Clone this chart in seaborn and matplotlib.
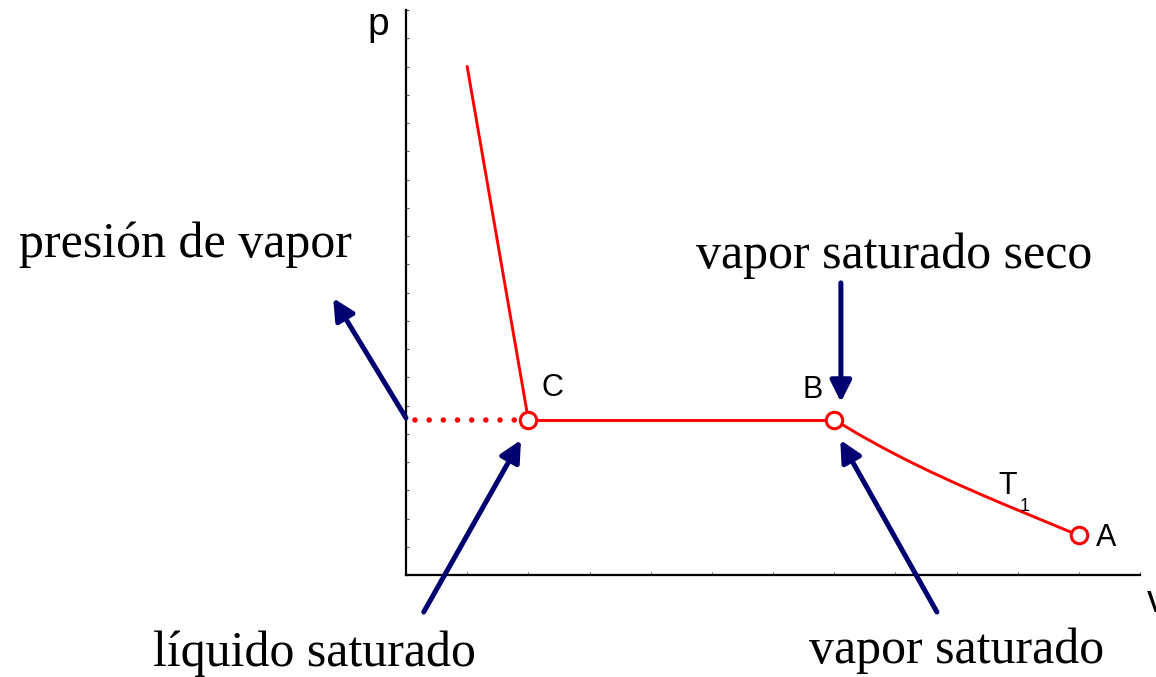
import pandas as pd
import seaborn as sns
import matplotlib.pyplot as plt

# Datos del diagrama p-v (unidades arbitrarias del eje)
v_liquido = [1.0, 2.0]
p_liquido = [18.0, 5.5]

v_cambio = [2.0, 7.0]
p_cambio = [5.5, 5.5]

v_punteado = [0.15, 1.8]
p_punteado = [5.5, 5.5]

v_isoterma = [7.0, 7.4, 7.8, 8.2, 8.6, 9.0, 9.4, 9.8, 10.2, 10.6, 11.0]
p_isoterma = [5.5, 4.98, 4.50, 4.05, 3.63, 3.23, 2.85, 2.48, 2.12, 1.76, 1.4]

puntos = ['C', 'B', 'A']
v_puntos = [2.0, 7.0, 11.0]
p_puntos = [5.5, 5.5, 1.4]

rojo = '#ff0000'
azul = '#000070'

sns.set_style('white')
plt.rcParams['font.family'] = ['Liberation Sans', 'DejaVu Sans']
plt.rcParams['text.color'] = 'black'

fig = plt.figure(figsize=(11.56, 6.77), dpi=100)
ax = fig.add_axes([406 / 1156, 102 / 677, 734 / 1156, 565 / 677])

# Curvas
for vs, ps in [(v_liquido, p_liquido), (v_cambio, p_cambio), (v_isoterma, p_isoterma)]:
    sns.lineplot(x=vs, y=ps, ax=ax, color=rojo, lw=2.1, sort=False, estimator=None)
ax.plot(v_punteado, p_punteado, color=rojo, lw=4.0, linestyle=(0, (0.001, 2.55)),
        dash_capstyle='round', clip_on=False)

# Puntos C, B, A
df_puntos = pd.DataFrame({'v': v_puntos, 'p': p_puntos, 'nombre': puntos})
sns.scatterplot(data=df_puntos, x='v', y='p', ax=ax, s=140, facecolor='white',
                edgecolor=rojo, linewidth=2.2, zorder=5, clip_on=False)

ax.set_xlim(0, 12)
ax.set_ylim(0, 20)
ax.set_xticks(range(0, 13))
ax.set_yticks(range(0, 21))
ax.set_xticklabels([])
ax.set_yticklabels([])
ax.set_xlabel('')
ax.set_ylabel('')
ax.tick_params(direction='in', length=2, width=0.8, color='#555555',
               bottom=True, left=True)
sns.despine(ax=ax)
for lado in ['left', 'bottom']:
    ax.spines[lado].set_linewidth(1.6)
    ax.spines[lado].set_color('black')

# Etiquetas de ejes y puntos
ax.text(-0.46, 19.1, 'p', fontsize=28, ha='center', va='baseline')
ax.text(12.11, -1.31, 'v', fontsize=28, ha='left', va='baseline', clip_on=False)
ax.text(2.4, 6.62, 'C', fontsize=22, ha='center', va='center')
ax.text(6.65, 6.55, 'B', fontsize=22, ha='center', va='center')
ax.text(11.44, 1.31, 'A', fontsize=22, ha='center', va='center')
ax.text(9.83, 3.15, 'T', fontsize=22, ha='center', va='center')
ax.text(10.12, 2.44, '1', fontsize=13, ha='center', va='center')

# Textos en serif
serif = ['Liberation Serif', 'DejaVu Serif']
ax.text(-3.6, 11.26, 'presión de vapor', fontsize=36, family=serif, ha='center', va='baseline')
ax.text(7.98, 10.87, 'vapor saturado seco', fontsize=36, family=serif, ha='center', va='baseline')
ax.text(-1.5, -3.22, 'líquido saturado', fontsize=36, family=serif, ha='center', va='baseline')
ax.text(9.0, -3.1, 'vapor saturado', fontsize=36, family=serif, ha='center', va='baseline')

# Flechas
flechas = [((0.0, 5.56), (-1.19, 9.8)),
           ((0.29, -1.31), (1.88, 4.78)),
           ((8.68, -1.31), (7.1, 4.78)),
           ((7.11, 10.34), (7.11, 6.12))]
for cola, punta in flechas:
    ax.annotate('', xy=punta, xytext=cola, annotation_clip=False,
                arrowprops=dict(arrowstyle='-|>', lw=3.6, color=azul,
                                mutation_scale=32, shrinkA=0, shrinkB=0))

plt.savefig('out.png', dpi=100)
